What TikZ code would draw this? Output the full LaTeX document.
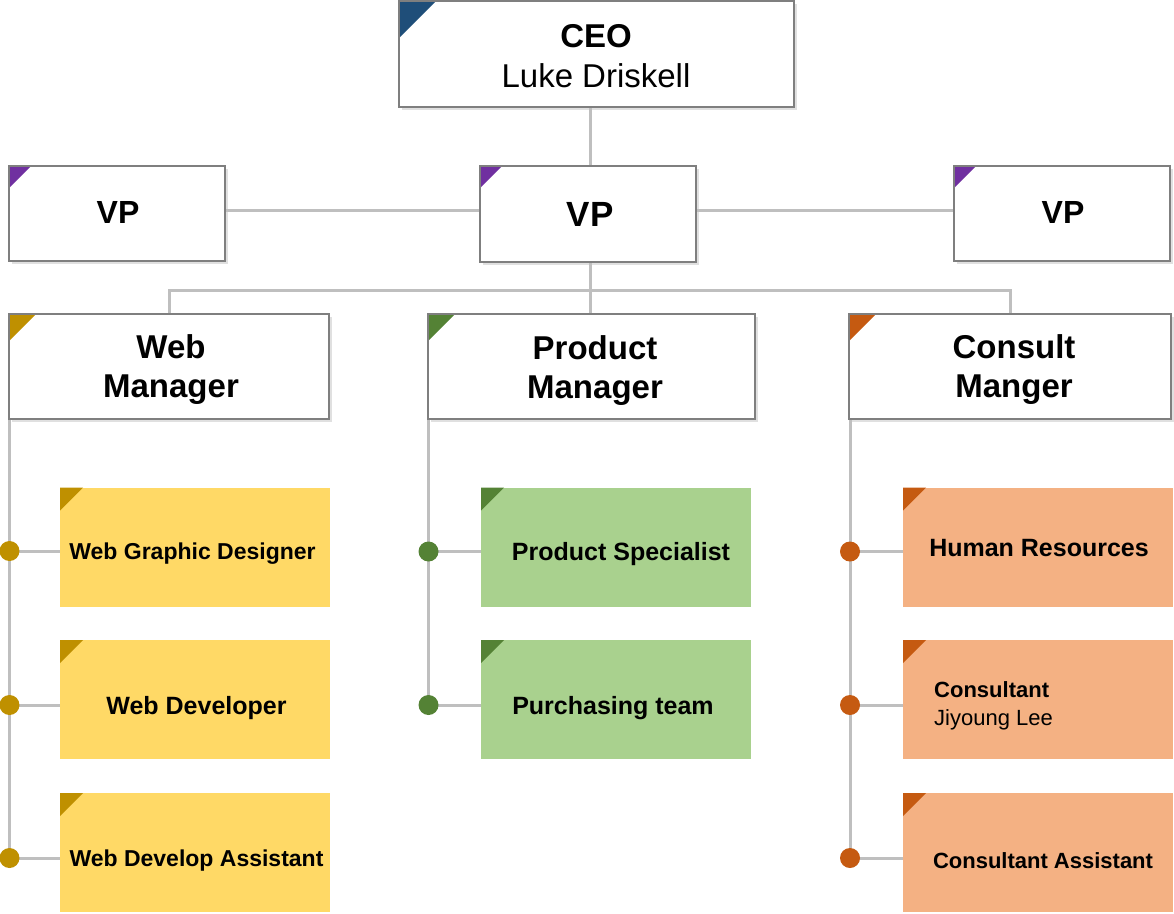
\documentclass[tikz,border=0pt]{standalone}
\usepackage{fontspec}
\setmainfont{Liberation Sans}
\usetikzlibrary{shadows,calc}
\definecolor{bordergray}{HTML}{7F7F7F}
\definecolor{linegray}{HTML}{BFBFBF}
\definecolor{ceoblue}{HTML}{1F4E79}
\definecolor{vppurple}{HTML}{7030A0}
\definecolor{gold}{HTML}{BF9000}
\definecolor{yellowfill}{HTML}{FFD966}
\definecolor{greencorner}{HTML}{548235}
\definecolor{greenfill}{HTML}{A9D18E}
\definecolor{orangecorner}{HTML}{C55A11}
\definecolor{orangefill}{HTML}{F4B183}
\begin{document}
\begin{tikzpicture}[x=1pt,y=-1pt,
  wbox/.style={draw=bordergray, line width=2pt, fill=white, inner sep=0pt,
    drop shadow={shadow xshift=2.5pt, shadow yshift=-2.5pt, fill=black, opacity=0.12}},
  sbox/.style={draw=none, inner sep=0pt, minimum width=270pt, minimum height=119pt},
  corner/.style 2 args={path picture={\fill[#1] (path picture bounding box.north west) -- ++(#2,0pt) -- ++(-#2,-#2) -- cycle;}},
  conn/.style={draw=linegray, line width=3pt},
  dot/.style={circle, fill=#1, minimum size=20pt, inner sep=0pt},
  txt/.style={inner sep=0pt, align=center, font=\bfseries\fontsize{#1}{39}\selectfont},
  stxt/.style={inner sep=0pt, align=center, font=\bfseries\fontsize{#1}{28}\selectfont},
]
\useasboundingbox (0,0) rectangle (1174,913);

% top boxes
\node[wbox, corner={ceoblue}{37pt}, minimum width=395pt, minimum height=106pt] (ceo) at (596.5,54) {};
\node[wbox, corner={vppurple}{22pt}, minimum width=216pt, minimum height=95pt] (vpl) at (117,213.5) {};
\node[wbox, corner={vppurple}{22pt}, minimum width=216pt, minimum height=96pt] (vpc) at (588,214) {};
\node[wbox, corner={vppurple}{22pt}, minimum width=216pt, minimum height=95pt] (vpr) at (1062,213.5) {};
\node[wbox, corner={gold}{27pt}, minimum width=320pt, minimum height=105pt] (wm) at (169,366.5) {};
\node[wbox, corner={greencorner}{27pt}, minimum width=327pt, minimum height=105pt] (pm) at (591.5,366.5) {};
\node[wbox, corner={orangecorner}{27pt}, minimum width=322pt, minimum height=105pt] (cm) at (1010,366.5) {};

% sub boxes
\node[sbox, fill=yellowfill, corner={gold}{23pt}] (w1) at (195,547) {};
\node[sbox, fill=yellowfill, corner={gold}{23pt}] (w2) at (195,699.5) {};
\node[sbox, fill=yellowfill, corner={gold}{23pt}] (w3) at (195,852.5) {};
\node[sbox, fill=greenfill, corner={greencorner}{23pt}] (p1) at (616,547) {};
\node[sbox, fill=greenfill, corner={greencorner}{23pt}] (p2) at (616,699.5) {};
\node[sbox, fill=orangefill, corner={orangecorner}{23pt}] (c1) at (1038,547) {};
\node[sbox, fill=orangefill, corner={orangecorner}{23pt}] (c2) at (1038,699.5) {};
\node[sbox, fill=orangefill, corner={orangecorner}{23pt}] (c3) at (1038,852.5) {};

% texts
\node[inner sep=0pt, align=center, font=\fontsize{33}{40}\selectfont] (ceot) at (596,56) {\textbf{CEO}\\Luke Driskell};
\node[txt=32] (vplt) at (118,212) {VP};
\node[txt=35] (vpct) at (590,214) {VP};
\node[txt=32] (vprt) at (1063,212) {VP};
\node[txt=33] (wmt) at (171,370) {Web\\Manager};
\node[txt=33] (pmt) at (595,371) {Product\\Manager};
\node[txt=33] (cmt) at (1014,370) {Consult\\Manger};

\node[stxt=23] (w1t) at (192.5,554) {Web Graphic Designer};
\node[stxt=25] (w2t) at (196.5,708) {Web Developer};
\node[stxt=23] (w3t) at (196.5,861) {Web Develop Assistant};
\node[stxt=25] (p1t) at (621,554) {Product Specialist};
\node[stxt=25] (p2t) at (613,708) {Purchasing team};
\node[stxt=25] (c1t) at (1039,548) {Human Resources};
\node[inner sep=0pt, align=left, anchor=west, font=\fontsize{22}{28}\selectfont] (c2t) at (934,705.5) {\textbf{Consultant}\\Jiyoung Lee};
\node[stxt=22] (c3t) at (1043,861) {Consultant Assistant};

% connectors
\coordinate (bus) at (590,290);
\draw[conn] (bus |- ceo.south) -- (bus |- vpc.north);
\draw[conn] ($(vpl.east)+(0,-3.5)$) -- ($(vpc.west)+(0,-4)$);
\draw[conn] ($(vpc.east)+(0,-4)$) -- ($(vpr.west)+(0,-3.5)$);
\draw[conn] (bus |- vpc.south) -- (bus);
\draw[conn] (wm.north) -- (wm.north |- bus) -- (cm.north |- bus) -- (cm.north);
\draw[conn] (bus) -- (bus |- pm.north);

\coordinate (dw1) at ($(wm.south west |- w1.west)+(1.5,4)$);
\coordinate (dw2) at ($(wm.south west |- w2.west)+(1.5,5.5)$);
\coordinate (dw3) at ($(wm.south west |- w3.west)+(1.5,5.5)$);
\coordinate (dp1) at ($(pm.south west |- p1.west)+(1.5,4.5)$);
\coordinate (dp2) at ($(pm.south west |- p2.west)+(1.5,5.5)$);
\coordinate (dc1) at ($(cm.south west |- c1.west)+(2,4.5)$);
\coordinate (dc2) at ($(cm.south west |- c2.west)+(2,5.5)$);
\coordinate (dc3) at ($(cm.south west |- c3.west)+(2,5.5)$);

\draw[conn] (dw1 |- wm.south) -- (dw3);
\draw[conn] (dp1 |- pm.south) -- (dp2);
\draw[conn] (dc1 |- cm.south) -- (dc3);
\draw[conn] (dw1) -- (dw1 -| w1.west);
\draw[conn] (dw2) -- (dw2 -| w2.west);
\draw[conn] (dw3) -- (dw3 -| w3.west);
\draw[conn] (dp1) -- (dp1 -| p1.west);
\draw[conn] (dp2) -- (dp2 -| p2.west);
\draw[conn] (dc1) -- (dc1 -| c1.west);
\draw[conn] (dc2) -- (dc2 -| c2.west);
\draw[conn] (dc3) -- (dc3 -| c3.west);

\node[dot=gold] (ow1) at (dw1) {};
\node[dot=gold] (ow2) at (dw2) {};
\node[dot=gold] (ow3) at (dw3) {};
\node[dot=greencorner] (op1) at (dp1) {};
\node[dot=greencorner] (op2) at (dp2) {};
\node[dot=orangecorner] (oc1) at (dc1) {};
\node[dot=orangecorner] (oc2) at (dc2) {};
\node[dot=orangecorner] (oc3) at (dc3) {};
\end{tikzpicture}
\end{document}
